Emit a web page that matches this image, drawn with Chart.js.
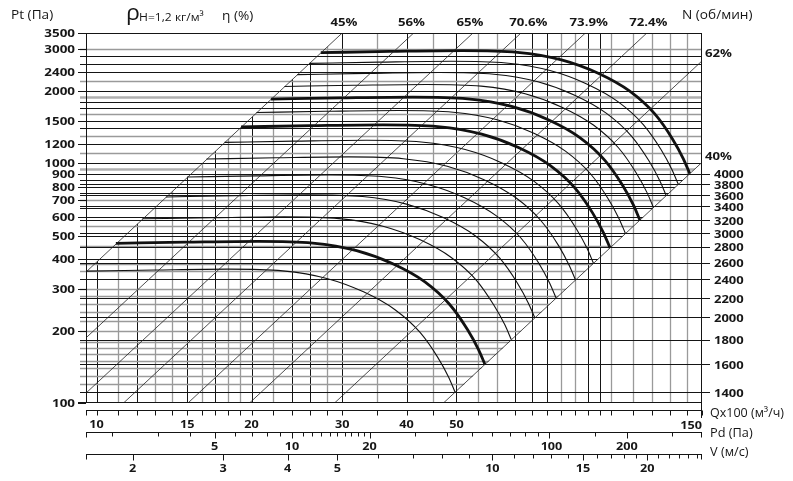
<!DOCTYPE html>
<html><head><meta charset="utf-8">
<script src="https://cdn.jsdelivr.net/npm/chart.js@4/dist/chart.umd.min.js"></script>
<style>html,body{margin:0;padding:0;background:#fff}#wrap{width:793px;height:481px}</style>
</head><body><div id="wrap"><canvas id="c" width="793" height="481"></canvas></div>
<script>
// ---------- DATA ----------
// fan curves: Q x100 m3/h  vs  Pt (Pa), one pair of arrays per speed (rpm)
const q1400=[9.54,13,18,23,28,33,38,42.5,46,48.3,49.7];
const p1400=[355,359,362,356,331,291,245,197,155,128,111];
const q1600=[10.9,14.86,20.57,26.29,32,37.71,43.43,48.57,52.57,55.2,56.8];
const p1600=[464,469,473,465,432,380,320,257,202,167,145];
const q1800=[12.27,16.71,23.14,29.57,36,42.43,48.86,54.64,59.14,62.1,63.9];
const p1800=[587,593,598,588,547,481,405,326,256,212,184];
const q2000=[13.63,18.57,25.71,32.86,40,47.14,54.29,60.71,65.71,69,71];
const p2000=[724,733,739,727,676,594,500,402,316,261,227];
const q2200=[14.99,20.43,28.29,36.14,44,51.86,59.71,66.79,72.29,75.9,78.1];
const p2200=[877,887,894,879,817,719,605,487,383,316,274];
const q2400=[16.35,22.29,30.86,39.43,48,56.57,65.14,72.86,78.86,82.8,85.2];
const p2400=[1043,1055,1064,1046,973,855,720,579,456,376,326];
const q2600=[17.72,24.14,33.43,42.71,52,61.29,70.57,78.93,85.43,89.7,92.3];
const p2600=[1224,1238,1249,1228,1142,1004,845,679,535,442,383];
const q2800=[19.08,26,36,46,56,66,76,85,92,96.6,99.4];
const p2800=[1420,1436,1448,1424,1324,1164,980,788,620,512,444];
const q3000=[20.44,27.86,38.57,49.29,60,70.71,81.43,91.07,98.57,103.5,106.5];
const p3000=[1630,1649,1662,1635,1520,1336,1125,905,712,588,510];
const q3200=[21.81,29.71,41.14,52.57,64,75.43,86.86,97.14,105.14,110.4,113.6];
const p3200=[1855,1876,1891,1860,1729,1520,1280,1029,810,669,580];
const q3400=[23.17,31.57,43.71,55.86,68,80.14,92.29,103.21,111.71,117.3,120.7];
const p3400=[2094,2117,2135,2100,1952,1716,1445,1162,914,755,655];
const q3600=[24.53,33.43,46.29,59.14,72,84.86,97.71,109.29,118.29,124.2,127.8];
const p3600=[2347,2374,2394,2354,2189,1924,1620,1303,1025,846,734];
const q3800=[25.89,35.29,48.86,62.43,76,89.57,103.14,115.36,124.86,131.1,134.9];
const p3800=[2615,2645,2667,2623,2439,2144,1805,1451,1142,943,818];
const q4000=[27.26,37.14,51.43,65.71,80,94.29,108.57,121.43,131.43,138,142];
const p4000=[2898,2931,2955,2906,2702,2376,2000,1608,1265,1045,906];

const rpmLabels=[1400,1600,1800,2000,2200,2400,2600,2800,3000,3200,3400,3600,3800,4000];
const rpmEndPressure=[111,145,184,228,274,328,385,449,511,580,664,735,818,907];
const thickRpm=[1600,2800,3200,4000];

// efficiency lines (start point, end point)
const effLabels=['45%','56%','65%','70.6%','73.9%','72.4%','62%','40%'];
const effStart=[[9.537,352],[9.537,187],[9.537,110],[11.28,100],[15.05,100],[19.82,100],[28.99,100],[47.19,100]];
const effEnd=[[30,3500],[41.3,3500],[53.85,3500],[66.75,3500],[89.04,3500],[117.2,3500],[150,2677],[150,1010]];

// grid
const qGridBlack=[10,12,15,17,20,24,26,30,40,50,65,70,75,90,95];
const qGridGrey=[11,13,14,16,18,19,22,28,35,45,55,60,80,85,100,110,120,130,140];
const pGridBlack=[2800,2600,2400,2000,1800,1700,1500,1400,1200,1000,900,850,800,750,650,600,500,400];
const pGridGrey=[3000,2200,1600,1300,1100,700,550,450,380,355,300,280,260,240,220,200,180,170,160,150,140,130,120];
const pGridThick=[1900,950];

// axes
const pTickLabels=[100,200,300,400,500,600,700,800,900,1000,1200,1500,2000,2400,3000,3500];
const qTickLabels=[10,15,20,30,40,50,150];
const pdTicks=[2,3,4,5,6,7,8,9,10,11,12,13,14,15,16,17,18,19,20,30,40,50,60,70,80,90,100,150,200,300];
const pdTickLabels=[5,10,20,100,200];
const vTicks=[2,3,4,5,6,7,8,9,10,11,12,13,14,15,16,17,18,19,20,21,22,23,24,25];
const vTickLabels=[2,3,4,5,10,15,20];

// ---------- CHART ----------
const curveSets=[[1400,q1400,p1400],[1600,q1600,p1600],[1800,q1800,p1800],[2000,q2000,p2000],[2200,q2200,p2200],
 [2400,q2400,p2400],[2600,q2600,p2600],[2800,q2800,p2800],[3000,q3000,p3000],[3200,q3200,p3200],
 [3400,q3400,p3400],[3600,q3600,p3600],[3800,q3800,p3800],[4000,q4000,p4000]];

const datasets=[];
effLabels.forEach((l,i)=>{
  datasets.push({label:'eff '+l,data:[{x:effStart[i][0],y:effStart[i][1]},{x:effEnd[i][0],y:effEnd[i][1]}],
    borderColor:'#222',borderWidth:0.8,pointRadius:0,tension:0,fill:false});
});
curveSets.forEach(([n,q,p])=>{
  const thick=thickRpm.includes(n);
  datasets.push({label:n+' rpm',data:q.map((v,i)=>({x:v,y:p[i]})),borderColor:'#111',
    borderWidth:thick?2.8:1.1,pointRadius:0,cubicInterpolationMode:'monotone',fill:false});
});

const BLACK='#151515', GREY='#9a9a9a';
const FONT='"Open Sans", "Liberation Sans", sans-serif';
function txt(ctx,s,x,y,size,weight,align,sx,base){
  ctx.save();ctx.font=weight+' '+size+'px '+FONT;ctx.fillStyle='#161616';
  ctx.textBaseline=base||'middle';ctx.textAlign=align;ctx.translate(x,y);ctx.scale(sx,1);
  ctx.fillText(s,0,0);ctx.restore();
}
const r5=v=>Math.round(v)+0.5;

const gridPlugin={
  id:'gridPlugin',
  beforeDatasetsDraw(chart){
    const {ctx,chartArea:a,scales}=chart;const x=scales.x,y=scales.y;
    const L=a.left,R=a.right,T=a.top,B=a.bottom;
    // vertical grid, below the 45% line
    ctx.save();
    ctx.beginPath();
    ctx.moveTo(L,B+1);ctx.lineTo(L,y.getPixelForValue(effStart[0][1]));
    ctx.lineTo(x.getPixelForValue(effEnd[0][0]),T);ctx.lineTo(R,T);ctx.lineTo(R,B+1);ctx.closePath();ctx.clip();
    const vline=(arr,col,w)=>{ctx.strokeStyle=col;ctx.lineWidth=w;arr.forEach(q=>{const px=r5(x.getPixelForValue(q));
      ctx.beginPath();ctx.moveTo(px,T);ctx.lineTo(px,B);ctx.stroke();});};
    vline(qGridGrey,GREY,1.3);vline(qGridBlack,BLACK,1);
    ctx.restore();
    // horizontal grid, left of the 40% line
    ctx.save();
    ctx.beginPath();
    ctx.moveTo(L-8,T-1);ctx.lineTo(R,T-1);ctx.lineTo(R,y.getPixelForValue(effEnd[7][1]));
    ctx.lineTo(x.getPixelForValue(effStart[7][0]),B+1);ctx.lineTo(L-8,B+1);ctx.closePath();ctx.clip();
    const hline=(arr,col,w)=>{ctx.strokeStyle=col;ctx.lineWidth=w;arr.forEach(p=>{const py=r5(y.getPixelForValue(p));
      ctx.beginPath();ctx.moveTo(L-6,py);ctx.lineTo(R,py);ctx.stroke();});};
    hline(pGridThick,'#b0b0b0',2.6);hline(pGridGrey,GREY,1.3);hline(pGridBlack,BLACK,1);
    ctx.restore();
    // speed lines, full width
    ctx.save();ctx.strokeStyle=BLACK;ctx.lineWidth=1;
    rpmEndPressure.forEach(p=>{const py=r5(y.getPixelForValue(p));ctx.beginPath();ctx.moveTo(L-6,py);ctx.lineTo(R+8,py);ctx.stroke();});
    ctx.restore();
  },
  afterDatasetsDraw(chart){
    const {ctx,chartArea:a,scales}=chart;const x=scales.x,y=scales.y,xPd=scales.xPd,xV=scales.xV;
    const L=a.left,R=a.right,T=a.top,B=a.bottom;
    ctx.save();ctx.strokeStyle=BLACK;ctx.lineWidth=1;
    const seg=(x1,y1,x2,y2)=>{ctx.beginPath();ctx.moveTo(x1,y1);ctx.lineTo(x2,y2);ctx.stroke();};
    // frame
    seg(L-8,T+0.5,R,T+0.5);seg(L+0.5,T,L+0.5,B);seg(R-0.5,T,R-0.5,418);seg(L-8,B-0.5,R,B-0.5);
    // left ticks + labels
    pTickLabels.forEach(p=>{const py=r5(y.getPixelForValue(p));seg(L-8,py,L,py);
      txt(ctx,String(p),75,py+0.5,11,'bold','right',1.22);});
    // Q axis
    const yQ=410.5;seg(L,yQ,R,yQ);
    [...qGridBlack,...qGridGrey,150].forEach(q=>{const px=r5(x.getPixelForValue(q));seg(px,yQ,px,yQ+5);});
    seg(L+0.5,yQ,L+0.5,yQ+5);
    qTickLabels.forEach(q=>{const px=x.getPixelForValue(q);
      if(q===150)txt(ctx,'150',R,426,11,'bold','right',1.15);else txt(ctx,String(q),px,425,11,'bold','center',1.15);});
    // Pd axis
    const yP=432.5;seg(L,yP,R,yP);seg(L+0.5,yP,L+0.5,yP+5);seg(R-0.5,yP,R-0.5,yP+5);
    pdTicks.forEach(v=>{const px=r5(xPd.getPixelForValue(v));seg(px,yP,px,yP+(pdTickLabels.includes(v)?6:4));});
    pdTickLabels.forEach(v=>txt(ctx,String(v),xPd.getPixelForValue(v)+(v===100?2:0),446.5,11,'bold','center',1.15));
    // V axis
    const yV=454.5;seg(L,yV,R,yV);seg(L+0.5,yV,L+0.5,yV+5);seg(R-0.5,yV,R-0.5,yV+5);
    vTicks.forEach(v=>{const px=r5(xV.getPixelForValue(v));seg(px,yV,px,yV+(vTickLabels.includes(v)?6:4));});
    vTickLabels.forEach(v=>txt(ctx,String(v),xV.getPixelForValue(v),469,11,'bold','center',1.15));
    ctx.restore();
    // axis titles
    txt(ctx,'Qx100 (м³/ч)',710,413,12.5,'normal','left',1.0);
    txt(ctx,'Pd (Па)',710,433,12.5,'normal','left',1.02);
    txt(ctx,'V (м/с)',710,452.5,12.5,'normal','left',1.02);
    txt(ctx,'Pt (Па)',11,15,13,'normal','left',1.05);
    txt(ctx,'ρ',126,19.5,21,'normal','left',1.1,'alphabetic');
    txt(ctx,'H=1,2 кг/м³',139,21,11.5,'normal','left',1.05,'alphabetic');
    txt(ctx,'η (%)',222,20,13,'normal','left',1.05,'alphabetic');
    txt(ctx,'N (об/мин)',682,15,13,'normal','left',1.05);
    // efficiency labels
    const topX=[344,411.5,470,528.3,588.7,648.3];
    for(let i=0;i<6;i++){txt(ctx,effLabels[i],topX[i],22.7,11,'bold','center',1.2);}
    txt(ctx,effLabels[6],705,54,11,'bold','left',1.2);
    txt(ctx,effLabels[7],705,156.7,11,'bold','left',1.2);
    // rpm labels
    rpmLabels.forEach((n,i)=>txt(ctx,String(n),714,y.getPixelForValue(rpmEndPressure[i])+1.5,11,'bold','left',1.18));
  }
};

new Chart(document.getElementById('c'),{
  type:'line',
  data:{datasets},
  options:{
    responsive:false,animation:false,devicePixelRatio:1,parsing:true,
    layout:{padding:{left:86,right:91,top:33,bottom:78}},
    plugins:{legend:{display:false},tooltip:{enabled:false}},
    scales:{
      x:{type:'logarithmic',min:9.537,max:150,display:false},
      y:{type:'logarithmic',min:100,max:3500,display:false},
      xPd:{type:'logarithmic',axis:'x',min:1.582,max:391.4,display:false},
      xV:{type:'logarithmic',axis:'x',min:1.624,max:25.54,display:false}
    }
  },
  plugins:[gridPlugin]
});
</script></body></html>
